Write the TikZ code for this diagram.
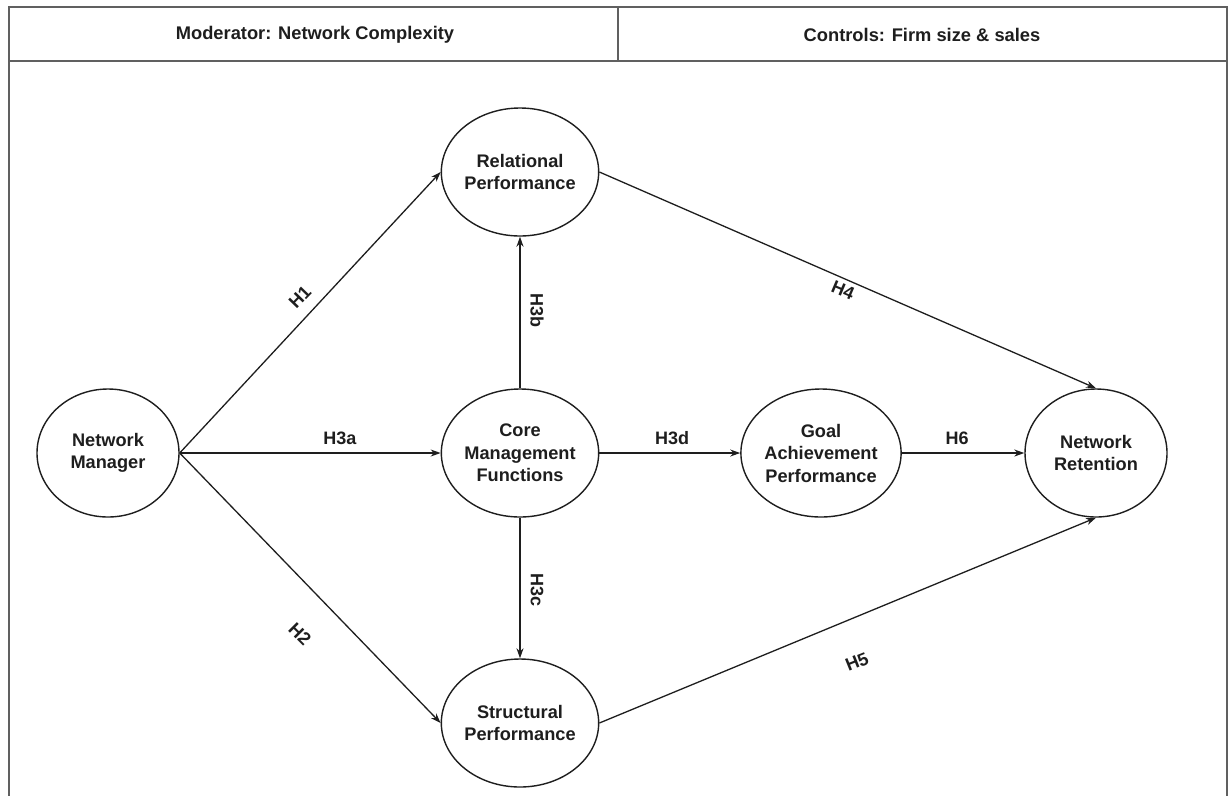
\documentclass[tikz,border=0pt]{standalone}
\usepackage{fontspec}
\setmainfont{Liberation Sans}
\usetikzlibrary{shapes.geometric,arrows.meta}
\definecolor{ink}{HTML}{1E1E1E}
\definecolor{frame}{HTML}{606060}
\tikzset{
  construct/.style={draw=ink, line width=1.4pt, ellipse, minimum width=142pt, minimum height=128pt, inner sep=0pt, align=center, text=ink, font=\fontsize{18.2}{22.5}\selectfont\bfseries},
  conn/.style={draw=ink, line width=1.3pt, -{Stealth[length=10pt,width=7pt]}},
  lbl/.style={text=ink, font=\fontsize{18}{21}\selectfont\bfseries, inner sep=1pt},
  headtxt/.style={text=ink, font=\fontsize{18.3}{21}\selectfont\bfseries},
  framel/.style={draw=frame, line width=2pt}
}
\begin{document}
\begin{tikzpicture}[x=1pt,y=-1pt]
\useasboundingbox (0,0) rectangle (1230,796);
\fill[white] (0,0) rectangle (1230,796);
% frame
\coordinate (tl) at (9,7);
\coordinate (tr) at (1227,7);
\coordinate (bl) at (9,61);
\coordinate (br) at (1227,61);
\coordinate (dt) at (618,7);
\coordinate (db) at (618,61);
\coordinate (lb) at (9,796);
\coordinate (rb) at (1227,796);
\draw[framel] (tl) rectangle (br);
\draw[framel] (dt) -- (db);
\draw[framel] (bl) -- (lb);
\draw[framel] (br) -- (rb);
\node[headtxt] (mod) at (315,35) {Moderator: Network Complexity};
\node[headtxt] (ctl) at (922,35) {Controls: Firm size \& sales};
% constructs
\node[construct] (nm) at (108,453) {Network\\Manager};
\node[construct] (rel) at (520,172) {Relational\\Performance};
\node[construct] (core) at (520,453) {Core\\Management\\Functions};
\node[construct] (str) at (520,723) {Structural\\Performance};
\node[construct] (goal) at (821,453) {Goal\\Achievement\\Performance};
\node[construct] (ret) at (1096,453) {Network\\Retention};
% connectors
\draw[conn] (nm.east) -- (rel.west);
\draw[conn] (nm.east) -- (core.west);
\draw[conn] (nm.east) -- (str.west);
\draw[conn] (core.north) -- (rel.south);
\draw[conn] (core.south) -- (str.north);
\draw[conn] (core.east) -- (goal.west);
\draw[conn] (goal.east) -- (ret.west);
\draw[conn] (rel.east) -- (ret.north);
\draw[conn] (str.east) -- (ret.south);
% labels
\node[lbl, rotate=46] (h1) at (300,297) {H1};
\node[lbl, rotate=-45] (h2) at (300,634) {H2};
\node[lbl] (h3a) at (340,438) {H3a};
\node[lbl, rotate=-90] (h3b) at (537,310) {H3b};
\node[lbl, rotate=-90] (h3c) at (537,590) {H3c};
\node[lbl] (h3d) at (672,438) {H3d};
\node[lbl] (h6) at (957,438) {H6};
\node[lbl, rotate=-23] (h4) at (843,290) {H4};
\node[lbl, rotate=22] (h5) at (857,662) {H5};
\end{tikzpicture}
\end{document}
